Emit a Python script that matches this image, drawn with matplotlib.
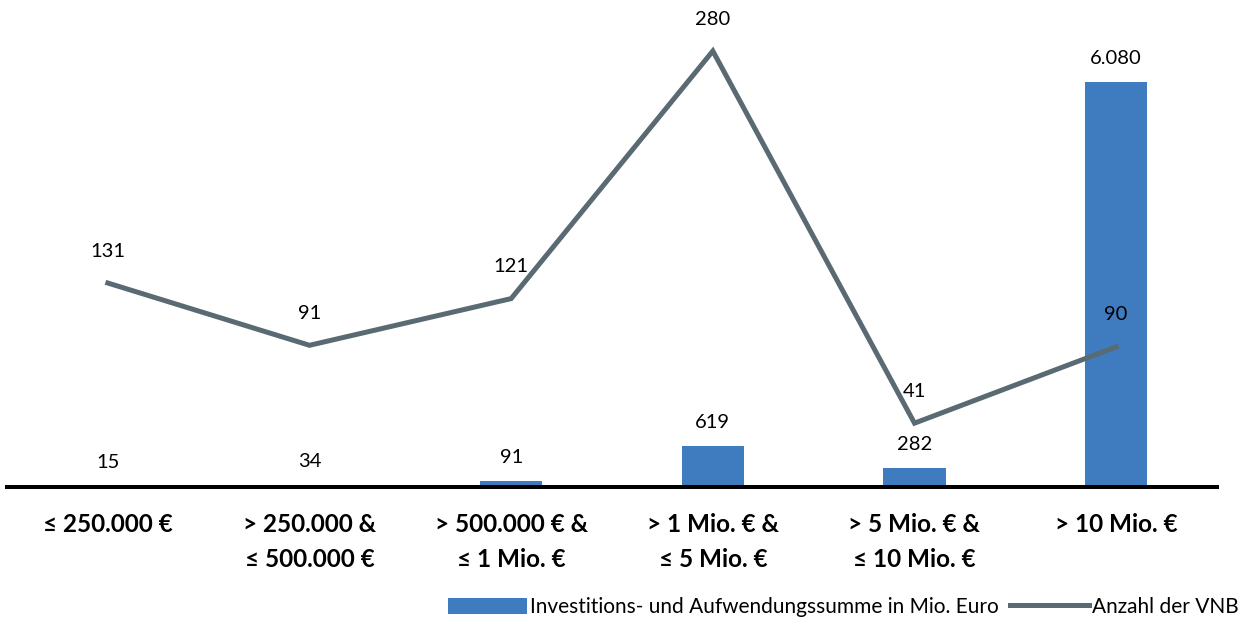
import matplotlib
matplotlib.use("Agg")
import matplotlib.pyplot as plt
from matplotlib.lines import Line2D
from matplotlib.patches import Patch

categories = ["≤ 250.000 €", "> 250.000 &\n≤ 500.000 €", "> 500.000 € &\n≤ 1 Mio. €",
              "> 1 Mio. € &\n≤ 5 Mio. €", "> 5 Mio. € &\n≤ 10 Mio. €", "> 10 Mio. €"]
invest_sum = [15, 34, 91, 619, 282, 6080]       # Mio. Euro
vnb_count = [131, 91, 121, 280, 41, 90]
bar_labels = ["15", "34", "91", "619", "282", "6.080"]
line_labels = ["131", "91", "121", "280", "41", "90"]

bar_color = "#3F7BBF"
line_color = "#5A6A73"

plt.rcParams["font.family"] = ["Lato", "DejaVu Sans"]

W, H = 1250, 621
fig = plt.figure(figsize=(W / 100, H / 100), dpi=100)
left, right, bottom, top = 7, 1217, 487, 30
ax = fig.add_axes([left / W, 1 - bottom / H, (right - left) / W, (bottom - top) / H])
ax2 = ax.twinx()

x = list(range(len(categories)))
ax.bar(x, invest_sum, width=0.31, color=bar_color, zorder=2)
ax.set_xlim(-0.5, len(categories) - 0.5)
ax.set_ylim(0, 6861)
ax2.set_ylim(0, 293.5)
ax2.plot(x, vnb_count, color=line_color, linewidth=3.6, solid_joinstyle="miter", zorder=3)

for xi, v, t in zip(x, invest_sum, bar_labels):
    ax.annotate(t, (xi, v), xytext=(0, 17), textcoords="offset points",
                ha="center", va="center", fontsize=14.5, color="black")
for xi, v, t in zip(x, vnb_count, line_labels):
    ax2.annotate(t, (xi, v), xytext=(0, 23), textcoords="offset points",
                 ha="center", va="center", fontsize=14.5, color="black")

for a in (ax, ax2):
    for s in ("top", "left", "right"):
        a.spines[s].set_visible(False)
    a.set_yticks([])
ax2.spines["bottom"].set_visible(False)
ax.spines["bottom"].set_color("black")
ax.spines["bottom"].set_linewidth(2.9)
ax2.set_zorder(ax.get_zorder() + 1)
ax2.patch.set_visible(False)

ax.set_xticks(x)
ax.set_xticklabels(categories, fontsize=17.5, fontweight="bold", linespacing=1.6)
ax.tick_params(axis="x", length=0, pad=19)

handles = [Patch(facecolor=bar_color, edgecolor="none"),
           Line2D([0], [0], color=line_color, linewidth=3.6)]
fig.legend(handles, ["Investitions- und Aufwendungssumme in Mio. Euro", "Anzahl der VNB"],
           loc="lower right", bbox_to_anchor=(1.0, -0.012), ncol=2, frameon=False,
           fontsize=15, handlelength=3.8, handleheight=0.8, handletextpad=0.15,
           columnspacing=0.5, borderaxespad=0.15)

fig.savefig("out.png", dpi=100)
